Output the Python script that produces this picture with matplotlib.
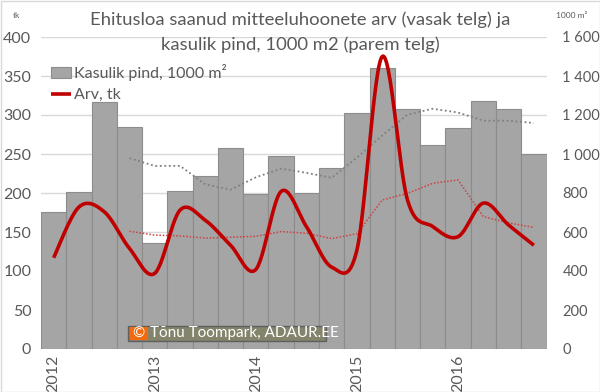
import numpy as np
import pandas as pd
import matplotlib
matplotlib.use("Agg")
import matplotlib.pyplot as plt
from matplotlib.patches import Rectangle
from matplotlib.ticker import FuncFormatter, FixedLocator

plt.rcParams['font.family'] = ['Lato', 'DejaVu Sans']

# ---- data ----
quarters = ["2012 Q1", "2012 Q2", "2012 Q3", "2012 Q4",
            "2013 Q1", "2013 Q2", "2013 Q3", "2013 Q4",
            "2014 Q1", "2014 Q2", "2014 Q3", "2014 Q4",
            "2015 Q1", "2015 Q2", "2015 Q3", "2015 Q4",
            "2016 Q1", "2016 Q2", "2016 Q3", "2016 Q4"]
year_labels = ["2012", "", "", "", "2013", "", "", "", "2014", "", "", "",
               "2015", "", "", "", "2016", "", "", ""]
area = [704, 807, 1267, 1138, 542, 810, 887, 1029, 795, 990, 800, 927,
        1210, 1441, 1231, 1046, 1133, 1272, 1231, 1000]   # 1000 m2 (right axis)
count = [117, 182, 176, 129, 97, 178, 165, 133, 102, 202, 157, 105,
         127, 375, 191, 157, 144, 187, 159, 133]           # tk (left axis)

W, H = 600, 392
fig = plt.figure(figsize=(W / 100, H / 100), dpi=100)

def fx(px):
    return px / W

def fy(py):
    return 1 - py / H

left_px, right_px, top_px, bot_px = 41, 546.5, 37, 349
ax = fig.add_axes([fx(left_px), fy(bot_px), fx(right_px - left_px), (bot_px - top_px) / H])
ax2 = ax.twinx()

x = np.arange(len(quarters))
txt_col = "#595959"

# bars on right-axis scale
ax.bar(x, area, width=1.0, color="#a5a5a5", edgecolor="#8c8c8c", linewidth=0.8,
       label="Kasulik pind, 1000 m²", zorder=2)
ma_area = pd.Series(area).rolling(4).mean()
ax.plot(x, ma_area, color="#7f7f7f", linestyle=(0, (1, 1.5)), linewidth=1.3, zorder=3)
ax.set_ylim(0, 1600)
ax.set_xlim(-0.5, len(x) - 0.5)
ax.yaxis.tick_right()
ax.yaxis.set_major_locator(FixedLocator(np.arange(0, 1601, 200)))
ax.yaxis.set_major_formatter(FuncFormatter(lambda v, p: f"{int(v):,}".replace(",", " ")))
ax.grid(axis="y", color="#d9d9d9", linewidth=1.0, zorder=0)
ax.set_axisbelow(True)

# smoothed line (Excel-like Bezier smoothing)
def smooth(xs, ys, n=30):
    P = np.column_stack([xs, ys]).astype(float)
    Pext = np.vstack([P[0], P, P[-1]])
    out = []
    for i in range(len(P) - 1):
        p0, p1, p2, p3 = Pext[i], Pext[i + 1], Pext[i + 2], Pext[i + 3]
        c1 = p1 + (p2 - p0) / 6
        c2 = p2 - (p3 - p1) / 6
        t = np.linspace(0, 1, n)[:, None]
        seg = ((1 - t) ** 3) * p1 + 3 * ((1 - t) ** 2) * t * c1 + 3 * (1 - t) * t ** 2 * c2 + t ** 3 * p2
        out.append(seg if i == 0 else seg[1:])
    out = np.vstack(out)
    return out[:, 0], out[:, 1]

sx, sy = smooth(x, count)
ax2.plot(sx, sy, color="#c00000", linewidth=2.6, solid_capstyle="butt", zorder=5,
         label="Arv, tk")
ma_count = pd.Series(count).rolling(4).mean()
ax2.plot(x, ma_count, color="#d04040", linestyle=(0, (1, 1.2)), linewidth=1.1, zorder=4)
ax2.set_ylim(0, 400)
ax2.yaxis.tick_left()
ax2.yaxis.set_major_locator(FixedLocator(np.arange(0, 401, 50)))

for a in (ax, ax2):
    for s in a.spines.values():
        s.set_visible(False)
    a.tick_params(axis="both", length=0, labelsize=11.5, colors=txt_col)

ax.tick_params(axis="y", pad=11.5, labelsize=10.5)
ax2.tick_params(axis="y", pad=7)
ax.set_xticks(x)
ax.set_xticklabels(year_labels, rotation=90, fontsize=11.5, color=txt_col)
ax.tick_params(axis="x", pad=4)

# legend
h1, l1 = ax.get_legend_handles_labels()
h2, l2 = ax2.get_legend_handles_labels()
leg = ax2.legend(h1 + h2, l1 + l2, loc="upper left", bbox_to_anchor=(0.0, 0.945),
                 frameon=False, fontsize=11.5, labelcolor=txt_col, handlelength=1.3,
                 handletextpad=0.15, labelspacing=0.45, borderaxespad=0.2)

# title and unit labels
fig.text(0.5, fy(20), "Ehitusloa saanud mitteeluhoonete arv (vasak telg) ja",
         ha="center", va="center", fontsize=13.3, color=txt_col)
fig.text(0.5, fy(45), "kasulik pind, 1000 m2 (parem telg)",
         ha="center", va="center", fontsize=13.3, color=txt_col)
fig.text(fx(16), fy(16), "tk", ha="center", va="center", fontsize=6, color=txt_col)
fig.text(fx(572), fy(16), "1000 m²", ha="center", va="center", fontsize=6, color=txt_col)

# watermark
fig.add_artist(Rectangle((fx(128), fy(341)), (326 - 128) / W, 15 / H, transform=fig.transFigure,
                         facecolor="#84846c", edgecolor="#5f5f5f", linewidth=1.0, zorder=10))
fig.add_artist(Rectangle((fx(129.5), fy(340)), 18 / W, 13 / H, transform=fig.transFigure,
                         facecolor="#f26a10", edgecolor="none", zorder=11))
fig.text(fx(138.5), fy(333.5), "©", ha="center", va="center", fontsize=10.5, color="white", zorder=12)
fig.text(fx(150), fy(333.5), "Tõnu Toompark, ADAUR.EE", ha="left", va="center",
         fontsize=11, color="white", zorder=12)

# outer border
fig.add_artist(Rectangle((0.5 / W, 0.5 / H), 1 - 1 / W, 1 - 1 / H, transform=fig.transFigure,
                         facecolor="none", edgecolor="#d9d9d9", linewidth=1.0))

fig.savefig("out.png", dpi=100)
